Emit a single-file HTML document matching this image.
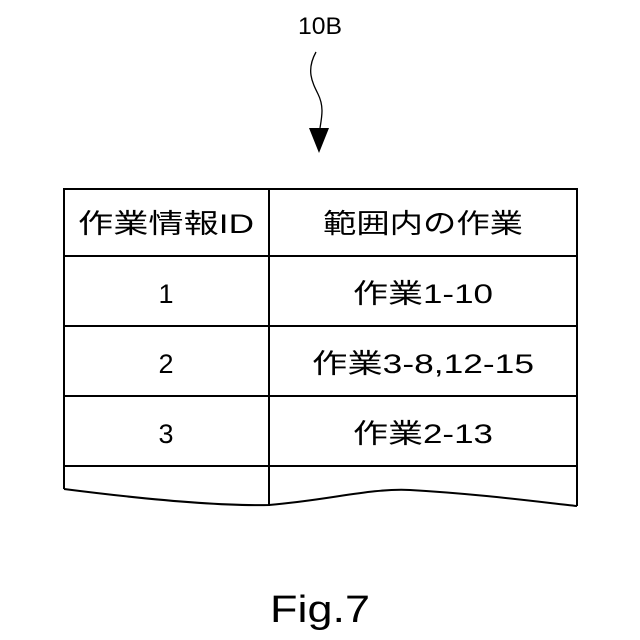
<!DOCTYPE html>
<html><head><meta charset="utf-8"><style>
html,body{margin:0;padding:0;background:#fff;}
svg{display:block;}
text{font-family:"Liberation Sans","Noto Sans CJK JP",sans-serif;fill:#000;}
</style></head><body>
<svg width="640" height="640" viewBox="0 0 640 640" xmlns="http://www.w3.org/2000/svg">
<text x="320" y="34" font-size="24" text-anchor="middle" textLength="44" lengthAdjust="spacingAndGlyphs">10B</text>
<path d="M316,52 C306,70 312,82 318,94 C324,106 322,116 320,128" fill="none" stroke="#000" stroke-width="1.3"/>
<polygon points="309,128 329,128 319,153" fill="#000"/>
<g stroke="#000" stroke-width="2" fill="none">
<path d="M64,489 L64,189 L577,189 L577,506"/>
<line x1="269" y1="189" x2="269" y2="506"/>
<line x1="64" y1="256" x2="577" y2="256"/>
<line x1="64" y1="326" x2="577" y2="326"/>
<line x1="64" y1="396" x2="577" y2="396"/>
<line x1="64" y1="466" x2="577" y2="466"/>
<path d="M64,489 C150,500 220,506 269,505 C330,500 370,488 410,490 C480,494 540,502 577,506"/>
</g>
<g font-size="27" text-anchor="middle">
<text x="166" y="233" textLength="176" lengthAdjust="spacingAndGlyphs">作業情報ID</text>
<text x="423" y="233" textLength="200" lengthAdjust="spacingAndGlyphs">範囲内の作業</text>
<text x="166" y="303">1</text>
<text x="423" y="303" textLength="140" lengthAdjust="spacingAndGlyphs">作業1-10</text>
<text x="166" y="373">2</text>
<text x="423" y="373" textLength="222" lengthAdjust="spacingAndGlyphs">作業3-8,12-15</text>
<text x="166" y="443">3</text>
<text x="423" y="443" textLength="140" lengthAdjust="spacingAndGlyphs">作業2-13</text>
</g>
<text x="320" y="622" font-size="38" text-anchor="middle" textLength="100" lengthAdjust="spacingAndGlyphs">Fig.7</text>
</svg>
</body></html>
